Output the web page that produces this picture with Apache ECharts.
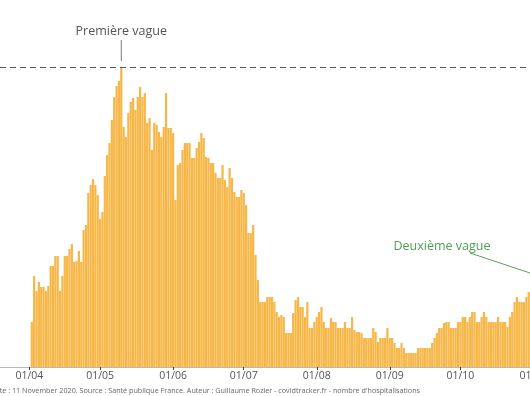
<!DOCTYPE html>
<html>
<head>
<meta charset="utf-8">
<script src="https://cdn.jsdelivr.net/npm/echarts@6/dist/echarts.min.js"></script>
<style>
html,body{margin:0;padding:0;background:#fff;}
#chart{width:530px;height:396px;}
</style>
</head>
<body>
<div id="chart"></div>
<script>
// Axis range (categories) and data
const axisStart = '2020-03-20';
const axisDays = 229;
const firstDataDate = '2020-04-02';
const hospitalisations = [
  450, 910, 760, 850, 800, 800, 760, 810, 1010, 1010,
  1110, 1110, 760, 910, 1110, 1110, 1180, 1230, 1050, 1060,
  1160, 1050, 1370, 1420, 1740, 1820, 1880, 1820, 1720, 1480,
  1550, 1910, 2120, 2240, 2470, 2700, 2810, 2860, 3000, 2400,
  2300, 2540, 2650, 2690, 2570, 2700, 2800, 2700, 2740, 2440,
  2490, 2170, 2440, 2420, 2350, 2300, 2400, 2740, 2390, 2390,
  2340, 1670, 2020, 2040, 2170, 2240, 2240, 2240, 2090, 2090,
  2190, 2250, 2340, 2290, 2100, 2090, 2040, 2040, 1940, 1890,
  1890, 2020, 1870, 1800, 1990, 1890, 1750, 1700, 1700, 1770,
  1740, 1620, 1340, 1340, 1420, 1120, 870, 650, 650, 650,
  700, 700, 700, 650, 550, 500, 520, 500, 340, 340,
  340, 540, 670, 700, 600, 600, 500, 650, 390, 390,
  450, 500, 550, 600, 450, 390, 390, 490, 450, 450,
  390, 390, 390, 450, 390, 390, 500, 370, 350, 350,
  340, 290, 290, 290, 290, 390, 350, 250, 290, 290,
  290, 390, 290, 290, 240, 190, 190, 240, 190, 140,
  140, 140, 140, 140, 190, 190, 190, 190, 190, 190,
  240, 290, 340, 390, 390, 440, 450, 450, 390, 390,
  390, 450, 450, 500, 500, 450, 500, 550, 550, 450,
  450, 500, 550, 500, 450, 450, 450, 450, 500, 450,
  450, 450, 400, 500, 550, 650, 700, 650, 650, 650,
  700, 750, 770
];
const peakValue = 3000;
const footerText = "Date : 11 November 2020. Source : Santé publique France. Auteur : Guillaume Rozier - covidtracker.fr - nombre d'hospitalisations";

// Build categories
const dates = [];
const d0 = new Date(axisStart + 'T00:00:00Z');
for (let i = 0; i < axisDays; i++) {
  const d = new Date(d0.getTime() + i * 86400000);
  dates.push(d.toISOString().slice(0, 10));
}
const offset = dates.indexOf(firstDataDate);
const seriesData = dates.map((d, i) => {
  const k = i - offset;
  return (k >= 0 && k < hospitalisations.length) ? hospitalisations[k] : null;
});
const isMonthStart = (idx, val) => val.slice(8, 10) === '01';
const fmt = v => v.slice(8, 10) + '/' + v.slice(5, 7);

const chart = echarts.init(document.getElementById('chart'), null, {renderer: 'canvas'});
const FONT = '"Open Sans", "Noto Sans", sans-serif';
chart.setOption({
  animation: false,
  backgroundColor: '#ffffff',
  grid: {left: 0, right: -9.3, top: 67, bottom: 29, containLabel: false, outerBoundsMode: 'none'},
  xAxis: {
    type: 'category',
    data: dates,
    boundaryGap: true,
    axisLine: {show: true, lineStyle: {color: '#b8b8b8', width: 1}},
    axisTick: {show: true, alignWithLabel: true, interval: isMonthStart, length: 3, lineStyle: {color: '#444'}},
    axisLabel: {interval: isMonthStart, formatter: fmt, color: '#555', fontFamily: FONT, fontSize: 10.5, margin: 4, hideOverlap: false},
    splitLine: {show: false}
  },
  yAxis: {
    type: 'value', min: 0, max: peakValue,
    show: false, splitLine: {show: false}
  },
  series: [{
    type: 'bar',
    data: seriesData,
    barCategoryGap: '6%',
    itemStyle: {color: '#F7B748'},
    markLine: {
      silent: true, symbol: 'none',
      label: {show: false},
      lineStyle: {type: [6, 4], color: '#555', width: 1},
      data: [{yAxis: peakValue}]
    }
  }]
});

// Annotations anchored to data
const peakIdx = seriesData.indexOf(peakValue);
const p = chart.convertToPixel({seriesIndex: 0}, [peakIdx, peakValue]);
chart.setOption({
  graphic: [
    {type: 'text', x: 420, y: 391, style: {text: footerText, fill: '#666', font: '7.2px ' + FONT, textAlign: 'right', textVerticalAlign: 'middle'}},
    {type: 'line', shape: {x1: p[0], y1: p[1] - 27, x2: p[0], y2: p[1] - 6}, style: {stroke: '#777', lineWidth: 1}},
    {type: 'text', x: p[0], y: p[1] - 36, style: {text: 'Première vague', fill: '#555', font: '12.5px ' + FONT, textAlign: 'center', textVerticalAlign: 'middle'}},
    {type: 'line', shape: {x1: 470, y1: 253, x2: 545, y2: 278}, style: {stroke: '#5aa55a', lineWidth: 1}},
    {type: 'text', x: 442, y: 246, style: {text: 'Deuxième vague', fill: '#4E9F4E', font: '12.5px ' + FONT, textAlign: 'center', textVerticalAlign: 'middle'}}
  ]
});
</script>
</body>
</html>
